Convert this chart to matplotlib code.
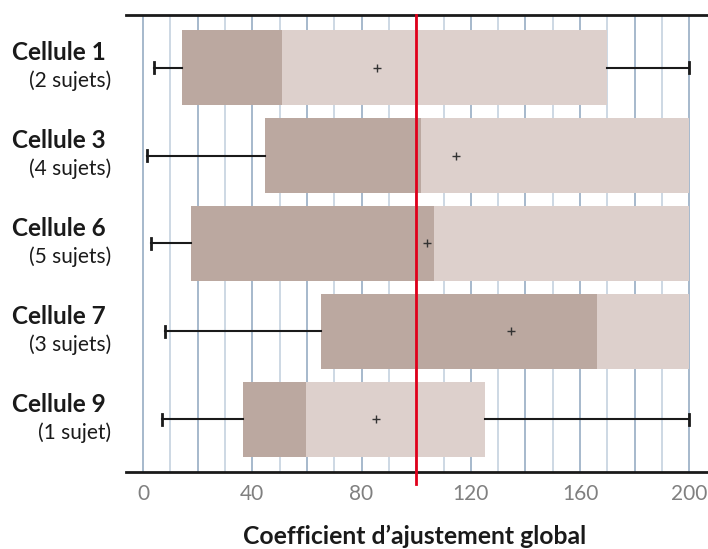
import matplotlib.pyplot as plt
import matplotlib.transforms as mtransforms

plt.rcParams['font.family'] = ['Lato', 'DejaVu Sans']

cells = ["Cellule 1", "Cellule 3", "Cellule 6", "Cellule 7", "Cellule 9"]
subjects = ["(2 sujets)", "(4 sujets)", "(5 sujets)", "(3 sujets)", "(1 sujet)"]
whisker_low = [4, 1.5, 3, 8, 7]
q1 = [14.3, 44.8, 17.5, 65, 36.7]
median = [51, 101.8, 106.7, 166.1, 59.6]
q3 = [169.7, 200, 200, 200, 125.2]
whisker_high = [200, 200, 200, 200, 200]
mean = [85.5, 114.6, 104, 134.8, 85.4]
xticks = [0, 40, 80, 120, 160, 200]
reference = 100

dark = "#bba8a0"
light = "#ddd0cc"

W, H = 708, 549
fig = plt.figure(figsize=(W / 100, H / 100), dpi=100)
ax = fig.add_axes([126 / W, 1 - 472 / H, (708 - 126) / W, (472 - 15) / H])
ax.set_xlim(-6.2, 206.8)
ax.set_ylim(4.6, -0.6)

# vertical grid, darker every 20
for g in range(0, 201, 10):
    c = "#9fb3c8" if g % 20 == 0 else "#c9d5e2"
    ax.axvline(g, color=c, lw=1.3, zorder=0)

h = 0.85
cap = 0.06
for i in range(len(cells)):
    ax.barh(i, median[i] - q1[i], left=q1[i], height=h, color=dark, zorder=2)
    ax.barh(i, q3[i] - median[i], left=median[i], height=h, color=light, zorder=2)
    if whisker_low[i] < q1[i]:
        ax.plot([whisker_low[i], q1[i]], [i, i], color="#1a1a1a", lw=1.5, zorder=3)
        ax.plot([whisker_low[i]] * 2, [i - cap, i + cap], color="#1a1a1a", lw=2, zorder=3)
    if whisker_high[i] > q3[i]:
        ax.plot([q3[i], whisker_high[i]], [i, i], color="#1a1a1a", lw=1.5, zorder=3)
        ax.plot([whisker_high[i]] * 2, [i - cap, i + cap], color="#1a1a1a", lw=2, zorder=3)
    ax.plot(mean[i], i, marker="+", ms=6, mew=1, color="#333333", zorder=4)

ax.axvline(reference, ymin=-0.027, ymax=1, color="#e0001b", lw=2, zorder=5, clip_on=False)

for s in ["left", "right"]:
    ax.spines[s].set_visible(False)
for s in ["top", "bottom"]:
    ax.spines[s].set_linewidth(2)
    ax.spines[s].set_color("#1a1a1a")

ax.set_yticks([])
ax.set_xticks(xticks)
ax.tick_params(axis="x", length=0, pad=9, labelsize=15, labelcolor="#808080")
fig.text(415 / W, 1 - 544 / H, "Coefficient d’ajustement global",
         ha="center", va="baseline", fontsize=17.8, fontweight="bold", color="#1a1a1a")

trans = mtransforms.blended_transform_factory(fig.transFigure, ax.transData)
for i in range(len(cells)):
    ax.text(106 / W, i - 0.17, cells[i], transform=trans, ha="right", va="center",
            fontsize=17.5, fontweight="bold", color="#1a1a1a")
    ax.text(111 / W, i + 0.15, subjects[i], transform=trans, ha="right", va="center",
            fontsize=15, color="#1a1a1a")

fig.savefig("out.png", dpi=100)
